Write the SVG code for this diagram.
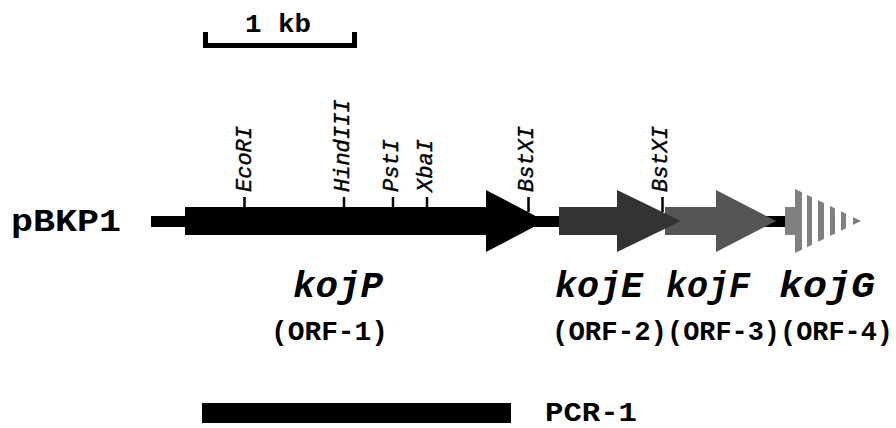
<svg xmlns="http://www.w3.org/2000/svg" width="896" height="428" viewBox="0 0 896 428">
  <style>
    .lbl { font-family: "Liberation Mono", "DejaVu Sans Mono", monospace; font-weight: bold; fill: #000; }
    .gene { font-family: "Liberation Mono", "DejaVu Sans Mono", monospace; font-weight: bold; font-style: italic; font-size: 36px; fill: #000; }
    .orf { font-family: "Liberation Mono", "DejaVu Sans Mono", monospace; font-weight: bold; font-size: 27px; fill: #000; }
    .site { font-family: "Liberation Mono", "DejaVu Sans Mono", monospace; font-style: italic; font-size: 22px; fill: #000; stroke: #000; stroke-width: 0.4; }
    .tick { stroke: #000; stroke-width: 2.5; }
  </style>
  <defs>
    <clipPath id="stripes">
      <rect x="795" y="180" width="7" height="80"/>
      <rect x="807" y="180" width="5" height="80"/>
      <rect x="818" y="180" width="6" height="80"/>
      <rect x="830" y="180" width="5" height="80"/>
      <rect x="841" y="180" width="5" height="80"/>
      <rect x="853" y="180" width="10" height="80"/>
    </clipPath>
  </defs>
  <rect width="896" height="428" fill="#fff"/>

  <!-- scale bar -->
  <g id="scale">
    <path d="M205.5 32 V45.5 H354.5 V32" fill="none" stroke="#000" stroke-width="5"/>
    <text class="lbl" x="245" y="32" font-size="26" textLength="66" lengthAdjust="spacingAndGlyphs">1 kb</text>
  </g>

  <!-- plasmid name -->
  <g id="pBKP1">
    <text class="lbl" x="11" y="231" font-size="31" textLength="110" lengthAdjust="spacingAndGlyphs">pBKP1</text>
  </g>

  <!-- vector backbone -->
  <g id="backbone">
    <rect x="151" y="216" width="634" height="11" fill="#000"/>
  </g>

  <!-- ORFs -->
  <g id="kojP">
    <polygon points="185,207 486,207 486,190 545,221 486,252 486,235 185,235" fill="#000"/>
    <text class="gene" x="293" y="297" textLength="90" lengthAdjust="spacingAndGlyphs">kojP</text>
    <text class="orf" x="271" y="340" textLength="117" lengthAdjust="spacingAndGlyphs">(ORF-1)</text>
  </g>
  <g id="kojF">
    <polygon points="665,207 716,207 716,190 776,221 716,252 716,235 665,235" fill="#555"/>
    <text class="gene" x="666" y="297" textLength="84" lengthAdjust="spacingAndGlyphs">kojF</text>
    <text class="orf" x="667" y="340" textLength="113" lengthAdjust="spacingAndGlyphs">(ORF-3)</text>
  </g>
  <g id="kojE">
    <polygon points="559,207 617,207 617,190 681,221 617,252 617,235 559,235" fill="#333"/>
    <text class="gene" x="555" y="297" textLength="88" lengthAdjust="spacingAndGlyphs">kojE</text>
    <text class="orf" x="552" y="340" textLength="115" lengthAdjust="spacingAndGlyphs">(ORF-2)</text>
  </g>
  <g id="kojG">
    <rect x="785" y="207" width="12" height="28" fill="#808080"/>
    <polygon points="795,189 861,221 795,253" fill="#808080" clip-path="url(#stripes)"/>
    <text class="gene" x="779" y="297" textLength="96" lengthAdjust="spacingAndGlyphs">kojG</text>
    <text class="orf" x="780" y="340" textLength="113" lengthAdjust="spacingAndGlyphs">(ORF-4)</text>
  </g>

  <!-- restriction sites -->
  <g id="sites">
    <line class="tick" x1="244.5" y1="197" x2="244.5" y2="207"/>
    <text class="site" transform="translate(251,192) rotate(-90)">EcoRI</text>
    <line class="tick" x1="344" y1="197" x2="344" y2="207"/>
    <text class="site" transform="translate(348.5,192) rotate(-90)">HindIII</text>
    <line class="tick" x1="393" y1="197" x2="393" y2="207"/>
    <text class="site" transform="translate(397.5,192) rotate(-90)">PstI</text>
    <line class="tick" x1="427" y1="197" x2="427" y2="207"/>
    <text class="site" transform="translate(432,192) rotate(-90)">XbaI</text>
    <line class="tick" x1="528.5" y1="197" x2="528.5" y2="212"/>
    <text class="site" transform="translate(533,192) rotate(-90)">BstXI</text>
    <line class="tick" x1="662.5" y1="197" x2="662.5" y2="212"/>
    <text class="site" transform="translate(667,192) rotate(-90)">BstXI</text>
  </g>

  <!-- PCR fragment -->
  <g id="PCR-1">
    <rect x="202" y="403" width="309" height="20" fill="#000"/>
    <text class="lbl" x="545" y="421" font-size="28" textLength="92" lengthAdjust="spacingAndGlyphs">PCR-1</text>
  </g>
</svg>
